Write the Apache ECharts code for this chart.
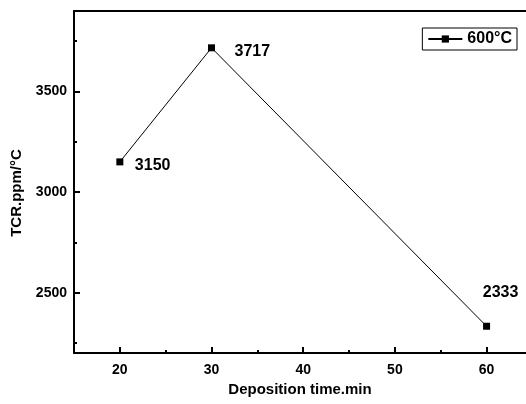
<!DOCTYPE html>
<html>
<head>
<meta charset="utf-8">
<script src="https://cdn.jsdelivr.net/npm/echarts@6/dist/echarts.min.js"></script>
<style>
  html, body { margin: 0; padding: 0; background: #fff; }
  #chart { width: 526px; height: 404px; }
</style>
</head>
<body>
<div id="chart"></div>
<script>
// 数据
const depTime = [20, 30, 60]
const tcr = [3150, 3717, 2333]
const xMajor = [20, 30, 40, 50, 60]
const xMinor = [25, 35, 45, 55]
const yMajor = [2500, 3000, 3500]
const yMinor = [2250, 2750, 3250, 3750]

const chart = echarts.init(document.getElementById('chart'))
const font = 'Liberation Sans, Arial, sans-serif'
const axisLine = { show: true, lineStyle: { color: '#000', width: 2 } }
const tickText = { fontFamily: font, fontWeight: 'bold', fontSize: 14, color: '#000' }

// 标签相对数据点的偏移
const labelOffset = [[15, 4, 'left'], [23, 4, 'left'], [14, -34, 'center']]

chart.setOption({
  animation: false,
  grid: { left: 74, top: 11, right: 0, bottom: 51 },
  legend: {
    right: 9, top: 28,
    padding: [3, 5, 3, 5],
    borderColor: '#000', borderWidth: 1, borderRadius: 0,
    itemWidth: 34, itemHeight: 9, itemGap: 4,
    textStyle: { fontFamily: font, fontWeight: 'bold', fontSize: 16, color: '#000' },
    data: ['600°C']
  },
  xAxis: [
    {
      type: 'value', min: 15, max: 64.3,
      name: 'Deposition time.min', nameLocation: 'middle', nameGap: 27,
      nameTextStyle: { fontFamily: font, fontWeight: 'bold', fontSize: 15, color: '#000' },
      axisLine,
      axisTick: { inside: true, length: 6, customValues: xMajor, lineStyle: { color: '#000', width: 2 } },
      axisLabel: { customValues: xMajor, margin: 10, ...tickText },
      splitLine: { show: false }
    },
    {
      type: 'value', min: 15, max: 64.3, position: 'bottom',
      axisLine: { show: false },
      axisTick: { inside: true, length: 3, customValues: xMinor, lineStyle: { color: '#000', width: 2 } },
      axisLabel: { show: false }, splitLine: { show: false }
    },
    {
      type: 'value', min: 15, max: 64.3, position: 'top',
      axisLine, axisTick: { show: false }, axisLabel: { show: false }, splitLine: { show: false }
    }
  ],
  yAxis: [
    {
      type: 'value', min: 2200, max: 3900,
      name: 'TCR.ppm/°C', nameLocation: 'middle', nameGap: 50, nameRotate: 90,
      nameTextStyle: { fontFamily: font, fontWeight: 'bold', fontSize: 15, color: '#000', padding: [0, 22, 0, 0] },
      axisLine,
      axisTick: { inside: true, length: 6, customValues: yMajor, lineStyle: { color: '#000', width: 2 } },
      axisLabel: { customValues: yMajor, margin: 7, formatter: v => String(v), ...tickText },
      splitLine: { show: false }
    },
    {
      type: 'value', min: 2200, max: 3900, position: 'left',
      axisLine: { show: false },
      axisTick: { inside: true, length: 3, customValues: yMinor, lineStyle: { color: '#000', width: 2 } },
      axisLabel: { show: false }, splitLine: { show: false }
    }
  ],
  series: [{
    name: '600°C',
    type: 'line',
    data: depTime.map((x, i) => [x, tcr[i]]),
    symbol: 'rect', symbolSize: 7,
    itemStyle: { color: '#000' },
    lineStyle: { color: '#000', width: 1 },
    label: {
      show: true,
      fontFamily: font, fontWeight: 'bold', fontSize: 16, color: '#000',
      formatter: p => p.value[1]
    },
    labelLayout: p => {
      const cx = p.rect.x + p.rect.width / 2
      const cy = p.rect.y + p.rect.height / 2
      const [dx, dy, align] = labelOffset[p.dataIndex]
      return { x: cx + dx, y: cy + dy, align, verticalAlign: 'middle' }
    }
  }]
})
</script>
</body>
</html>
